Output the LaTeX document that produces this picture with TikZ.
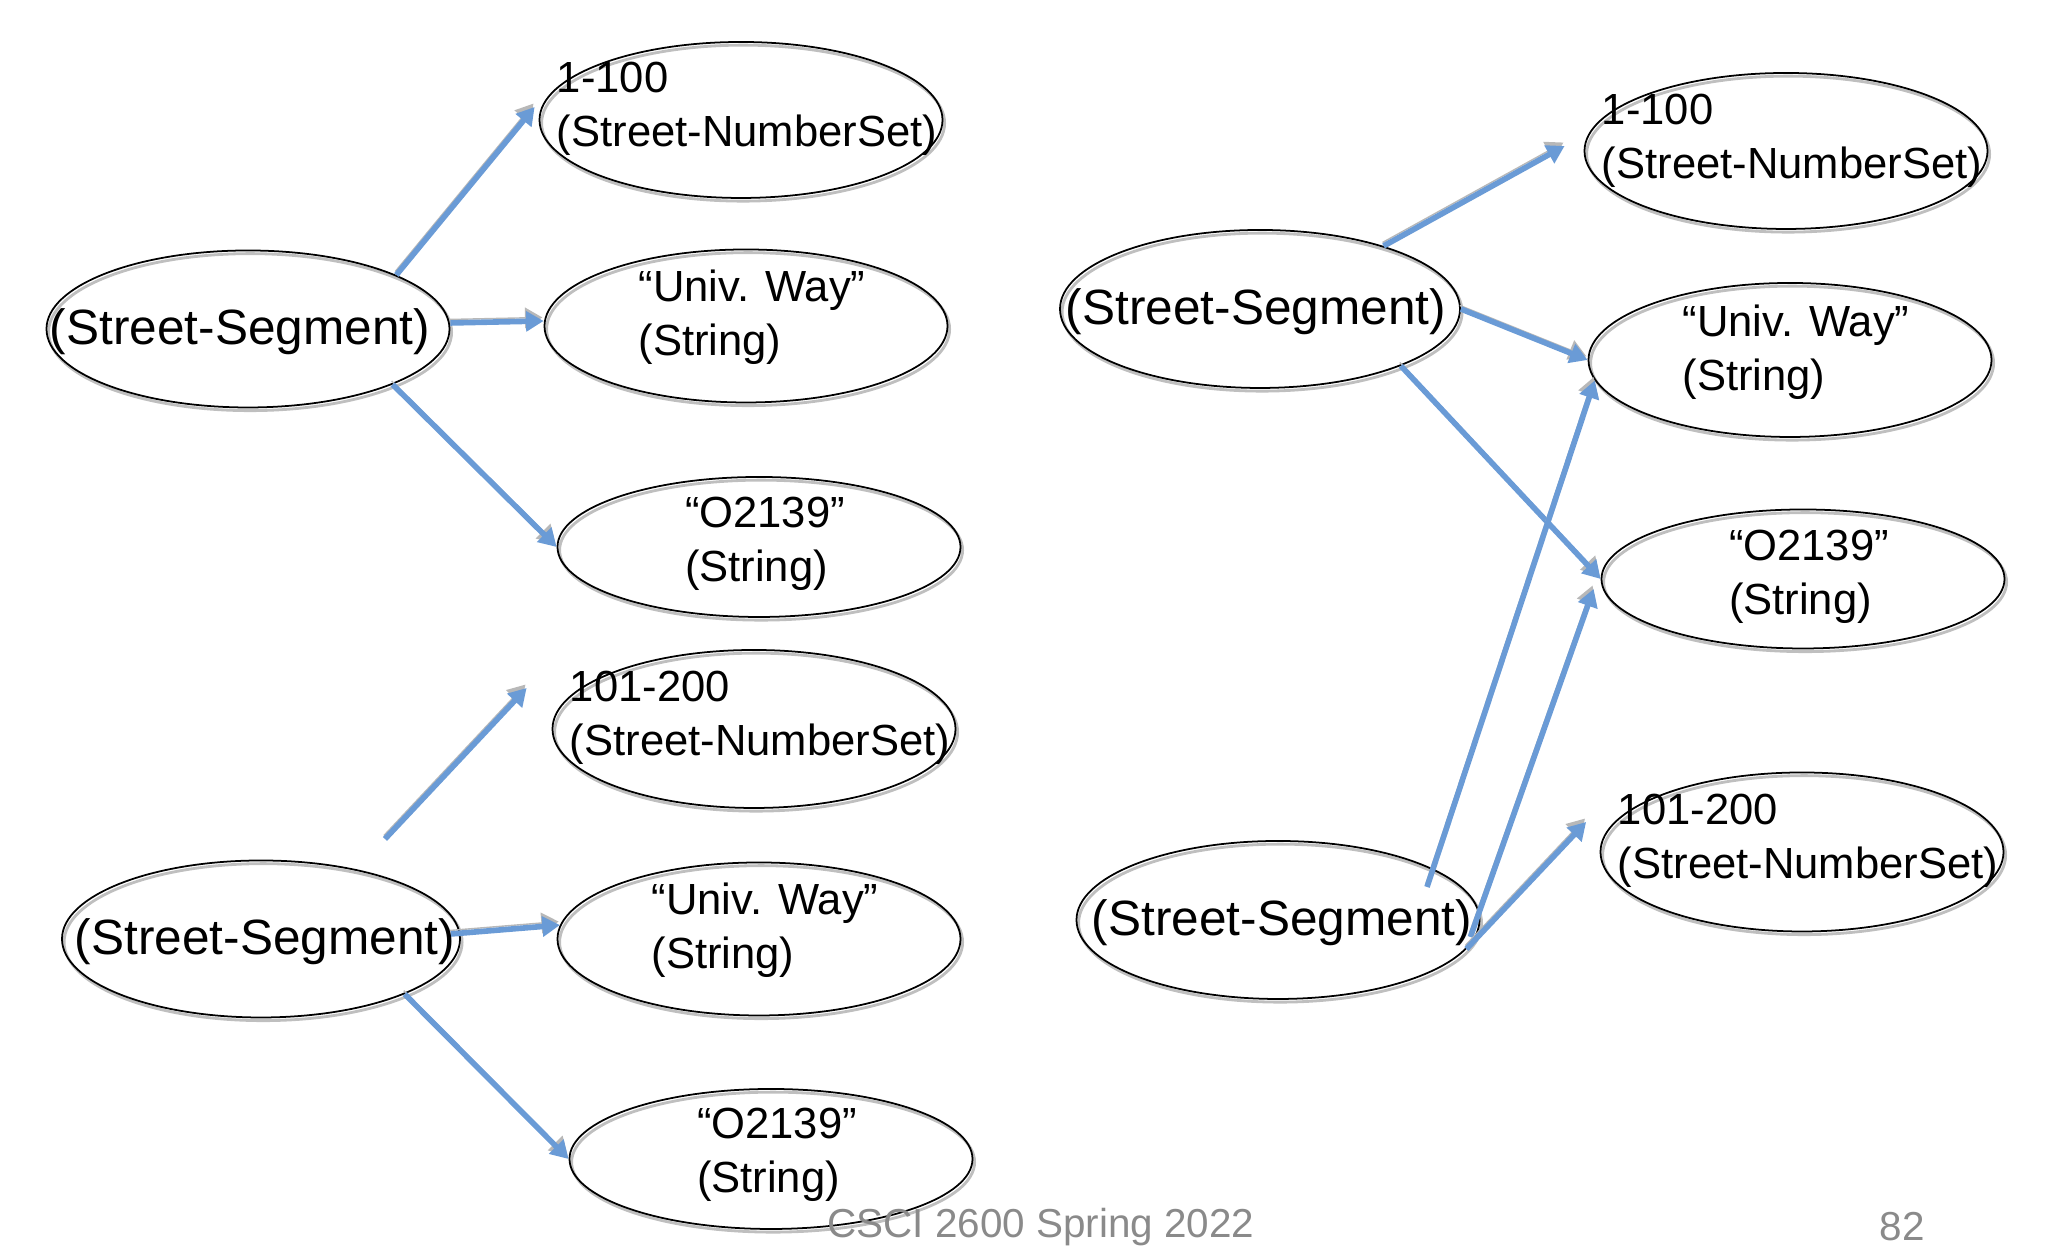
\documentclass[tikz,border=0pt]{standalone}
\usepackage{fontspec}
\setmainfont{Liberation Sans}
\usetikzlibrary{positioning, calc, shapes.geometric, arrows.meta}
\definecolor{linkblue}{RGB}{106,155,214}
\definecolor{footgray}{RGB}{138,138,138}

\begin{document}
\begin{tikzpicture}[
        oval/.style={ellipse, draw=black, line width=0.5pt, minimum width=4.03cm, inner sep=0pt,
            preaction={draw=black!25, line width=0.8pt, transform canvas={shift={(0.6pt,-0.9pt)}}}},
        seg/.style={oval, minimum height=1.57cm},
        numset/.style={oval, minimum height=1.56cm},
        way/.style={oval, minimum height=1.53cm},
        zip/.style={oval, minimum height=1.40cm},
        segtxt/.style={inner sep=0pt, font=\fontsize{14.1}{17}\selectfont, yshift=-0.3mm},
        val/.style={align=left, inner sep=0pt, font=\fontsize{12.4}{15.3}\selectfont, xshift=0.6mm},
        arrow/.style={-{Triangle[length=5pt, width=5.6pt]}, line width=1.6pt, draw=linkblue,
            preaction={draw=black!28, transform canvas={shift={(-0.3pt,1pt)}}}}
    ]
        \useasboundingbox (0,0) rectangle (20.46,12.54);

        % left, first segment
        \node[seg] (SEG1) at (2.48,9.25) {};
        \node[numset] (NUM1) at (7.41,11.34) {};
        \node[way] (WAY1) at (7.46,9.28) {};
        \node[zip] (ZIP1) at (7.59,7.07) {};
        \node[segtxt, xshift=-0.8mm] (SEG1T) at (SEG1) {(Street-Segment)};
        \node[val, yshift=1.1mm] (NUM1T) at (NUM1) {1-100\\(Street-NumberSet)};
        \node[val, yshift=0.9mm] (WAY1T) at (WAY1) {“Univ. Way”\\(String)};
        \node[val, yshift=0.3mm] (ZIP1T) at (ZIP1) {“O2139”\\(String)};

        % left, second segment
        \node[seg, minimum width=3.98cm] (SEG2) at (2.61,3.15) {};
        \node[numset, minimum height=1.58cm] (NUM2) at (7.54,5.25) {};
        \node[way] (WAY2) at (7.59,3.15) {};
        \node[zip] (ZIP2) at (7.71,0.95) {};
        \node[segtxt, xshift=0.4mm] (SEG2T) at (SEG2) {(Street-Segment)};
        \node[val, yshift=1.1mm] (NUM2T) at (NUM2) {101-200\\(Street-NumberSet)};
        \node[val, yshift=0.9mm] (WAY2T) at (WAY2) {“Univ. Way”\\(String)};
        \node[val, yshift=0.4mm] (ZIP2T) at (ZIP2) {“O2139”\\(String)};

        % right, shared values
        \node[seg, minimum width=4.0cm, minimum height=1.58cm] (SEG3) at (12.60,9.45) {};
        \node[numset] (NUM3) at (17.86,11.03) {};
        \node[way, minimum height=1.54cm] (WAY3) at (17.90,8.94) {};
        \node[zip, minimum height=1.39cm] (ZIP3) at (18.03,6.75) {};
        \node[segtxt, xshift=-0.4mm] (SEG3T) at (SEG3) {(Street-Segment)};
        \node[val, yshift=1.0mm] (NUM3T) at (NUM3) {1-100\\(Street-NumberSet)};
        \node[val, yshift=0.8mm] (WAY3T) at (WAY3) {“Univ. Way”\\(String)};
        \node[val, yshift=0.2mm] (ZIP3T) at (ZIP3) {“O2139”\\(String)};

        \node[seg, minimum height=1.58cm] (SEG4) at (12.78,3.34) {};
        \node[numset, minimum height=1.59cm] (NUM4) at (18.02,4.02) {};
        \node[segtxt, xshift=0.4mm] (SEG4T) at (SEG4) {(Street-Segment)};
        \node[val, yshift=1.1mm] (NUM4T) at (NUM4) {101-200\\(Street-NumberSet)};

        % footer
        \node[text=footgray, font=\fontsize{11.5}{14}\selectfont] (FOOT) at (10.41,0.27) {CSCI 2600 Spring 2022};
        \node[text=footgray, font=\fontsize{11.5}{14}\selectfont] (PAGE) at (19.02,0.27) {82};

        % arrows
        \draw[arrow] (SEG1.20) -- ([xshift=-0.04cm, yshift=0.13cm]NUM1.west);
        \draw[arrow] ([yshift=0.06cm]SEG1.east) -- ([yshift=0.05cm]WAY1.west);
        \draw[arrow] (SEG1.-21) -- (ZIP1.west);

        \coordinate (LOOSE) at (3.85,4.15);
        \draw[arrow] (LOOSE) -- ([xshift=-0.25cm, yshift=0.41cm]NUM2.west);
        \draw[arrow] ([xshift=-0.1cm, yshift=0.05cm]SEG2.east) -- (WAY2.176);
        \draw[arrow] (SEG2.-21) -- (ZIP2.west);

        \draw[arrow] (SEG3.27) -- ([xshift=-0.19cm, yshift=0.05cm]NUM3.west);
        \draw[arrow] (SEG3.east) -- (WAY3.west);
        \draw[arrow] (SEG3.-22) -- (ZIP3.west);

        \draw[arrow] ([shift={(1.49,0.33)}]SEG4.center) -- (WAY3.186);
        \draw[arrow] ([shift={(-0.1,-0.17)}]SEG4.east) -- ([xshift=-0.07cm, yshift=-0.1cm]ZIP3.west);
        \draw[arrow] ([shift={(-0.14,-0.29)}]SEG4.east) -- ([xshift=-0.135cm, yshift=0.3cm]NUM4.west);
    \end{tikzpicture}
\end{document}
